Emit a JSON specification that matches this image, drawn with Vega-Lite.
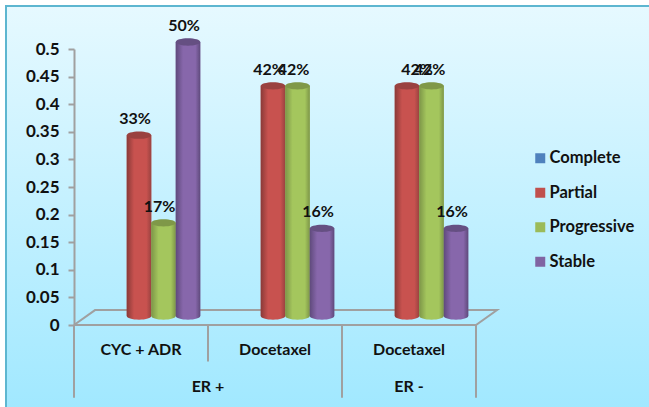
{
  "$schema": "https://vega.github.io/schema/vega-lite/v6.json",
  "width": 650,
  "height": 408,
  "autosize": "none",
  "padding": {"left": 6, "top": 6, "right": 0, "bottom": 0},
  "background": "#ffffff",
  "config": {
    "font": "Lato",
    "view": {
      "stroke": "#5DB6D0",
      "strokeWidth": 2,
      "fill": {"gradient": "linear", "x1": 0, "y1": 0, "x2": 0, "y2": 1, "stops": [{"offset": 0, "color": "#E6F9FF"}, {"offset": 1, "color": "#A0E8FF"}]}
    }
  },
  "datasets": {
    "results": [
      {"group": "ER +|CYC + ADR", "response": "Complete", "share": 0},
      {"group": "ER +|CYC + ADR", "response": "Partial", "share": 0.33},
      {"group": "ER +|CYC + ADR", "response": "Progressive", "share": 0.17},
      {"group": "ER +|CYC + ADR", "response": "Stable", "share": 0.5},
      {"group": "ER +|Docetaxel", "response": "Complete", "share": 0},
      {"group": "ER +|Docetaxel", "response": "Partial", "share": 0.42},
      {"group": "ER +|Docetaxel", "response": "Progressive", "share": 0.42},
      {"group": "ER +|Docetaxel", "response": "Stable", "share": 0.16},
      {"group": "ER -|Docetaxel", "response": "Complete", "share": 0},
      {"group": "ER -|Docetaxel", "response": "Partial", "share": 0.42},
      {"group": "ER -|Docetaxel", "response": "Progressive", "share": 0.42},
      {"group": "ER -|Docetaxel", "response": "Stable", "share": 0.16}
    ],
    "floor": [
      {"step": 1, "u": 0, "v": 0},
      {"step": 2, "u": 0.157, "v": 0.027},
      {"step": 3, "u": 3.157, "v": 0.027},
      {"step": 4, "u": 3, "v": 0},
      {"step": 5, "u": 0, "v": 0}
    ],
    "dividers": [
      {"u": 0, "end": -0.132},
      {"u": 1, "end": -0.066},
      {"u": 2, "end": -0.132},
      {"u": 3, "end": -0.132}
    ],
    "tiers": [
      {"u": 1, "v": -0.112, "tier": "ER +"},
      {"u": 2.5, "v": -0.112, "tier": "ER -"}
    ]
  },
  "layer": [
    {
      "layer": [
        {
          "data": {"name": "floor"},
          "mark": {"type": "line", "color": "#A0A0A0", "strokeWidth": 2, "clip": false},
          "encoding": {
            "x": {"field": "u", "type": "quantitative", "scale": {"domain": [0, 3], "range": [68, 470], "nice": false, "zero": false}, "axis": null},
            "y": {
              "field": "v", "type": "quantitative",
              "scale": {"domain": [0, 0.5], "range": [319, 43], "nice": false},
              "axis": {
                "title": null, "offset": -68, "grid": false,
                "values": [0, 0.05, 0.1, 0.15, 0.2, 0.25, 0.3, 0.35, 0.4, 0.45, 0.5],
                "format": ".2~f",
                "domainColor": "#A0A0A0", "domainWidth": 2,
                "tickColor": "#A0A0A0", "tickWidth": 2, "tickSize": 6,
                "labelFont": "Lato", "labelFontSize": 17, "labelFontWeight": "bold",
                "labelColor": "#111111", "labelPadding": 9
              }
            },
            "order": {"field": "step", "type": "quantitative"}
          }
        },
        {
          "data": {"name": "dividers"},
          "mark": {"type": "rule", "color": "#A0A0A0", "strokeWidth": 2, "clip": false},
          "encoding": {
            "x": {"field": "u", "type": "quantitative"},
            "y": {"field": "end", "type": "quantitative"},
            "y2": {"datum": 0}
          }
        },
        {
          "data": {"name": "tiers"},
          "mark": {"type": "text", "font": "Lato", "fontSize": 16, "fontWeight": "bold", "color": "#111111", "baseline": "middle"},
          "encoding": {
            "x": {"field": "u", "type": "quantitative"},
            "y": {"field": "v", "type": "quantitative"},
            "text": {"field": "tier"}
          }
        }
      ]
    },
    {
      "data": {"name": "results"},
      "encoding": {
        "x": {
          "field": "group", "type": "nominal",
          "scale": {
            "domain": ["ER +|CYC + ADR", "ER +|Docetaxel", "ER -|Docetaxel"],
            "range": [68, 470], "paddingInner": 0, "paddingOuter": 0
          },
          "axis": {
            "title": null, "orient": "bottom", "offset": -89, "ticks": false, "domain": false, "labelAngle": 0,
            "labelExpr": "split(datum.label, '|')[1]",
            "labelFont": "Lato", "labelFontSize": 16, "labelFontWeight": "bold",
            "labelColor": "#111111", "labelPadding": 16
          }
        },
        "xOffset": {
          "field": "response", "type": "nominal",
          "scale": {"type": "point", "padding": 0, "domain": ["Complete", "Partial", "Progressive", "Stable"], "range": [40.5, 114]}
        },
        "y": {
          "field": "share", "type": "quantitative", "stack": null,
          "scale": {"domain": [0, 0.5], "range": [310, 36], "nice": false},
          "axis": null
        }
      },
      "layer": [
        {
          "mark": {"type": "bar", "width": 24.5},
          "encoding": {
            "color": {
              "field": "response", "type": "nominal",
              "scale": {
                "domain": ["Complete", "Partial", "Progressive", "Stable"],
                "range": ["#4F81BD", "#C0504D", "#9BBB59", "#8064A2"]
              },
              "legend": {
                "title": null, "orient": "none", "legendX": 526, "legendY": 144,
                "symbolType": "square", "symbolSize": 100, "symbolStrokeWidth": 0,
                "rowPadding": 17.5, "labelOffset": 1,
                "labelFont": "Lato", "labelFontSize": 16.5, "labelFontWeight": "bold", "labelColor": "#111111"
              }
            }
          }
        },
        {
          "transform": [{"filter": "datum.response === 'Partial'"}],
          "mark": {"type": "bar", "width": 24.5, "color": {"gradient": "linear", "x1": 0, "y1": 0, "x2": 1, "y2": 0, "stops": [{"offset": 0, "color": "#8A3A38"}, {"offset": 0.3, "color": "#C8524F"}, {"offset": 0.8, "color": "#C8524F"}, {"offset": 1, "color": "#9A4240"}]}}
        },
        {
          "transform": [{"filter": "datum.response === 'Partial'"}],
          "mark": {"type": "point", "filled": true, "opacity": 1, "size": 600, "shape": "M-1,0 A1,0.3 0 0 0 1,0 Z", "color": {"gradient": "linear", "x1": 0, "y1": 0, "x2": 1, "y2": 0, "stops": [{"offset": 0, "color": "#8A3A38"}, {"offset": 0.3, "color": "#C8524F"}, {"offset": 0.8, "color": "#C8524F"}, {"offset": 1, "color": "#9A4240"}]}},
          "encoding": {"y": {"datum": 0, "type": "quantitative"}}
        },
        {
          "transform": [{"filter": "datum.response === 'Progressive'"}],
          "mark": {"type": "bar", "width": 24.5, "color": {"gradient": "linear", "x1": 0, "y1": 0, "x2": 1, "y2": 0, "stops": [{"offset": 0, "color": "#7D9648"}, {"offset": 0.3, "color": "#A4C65D"}, {"offset": 0.8, "color": "#A4C65D"}, {"offset": 1, "color": "#7D9648"}]}}
        },
        {
          "transform": [{"filter": "datum.response === 'Progressive'"}],
          "mark": {"type": "point", "filled": true, "opacity": 1, "size": 600, "shape": "M-1,0 A1,0.3 0 0 0 1,0 Z", "color": {"gradient": "linear", "x1": 0, "y1": 0, "x2": 1, "y2": 0, "stops": [{"offset": 0, "color": "#7D9648"}, {"offset": 0.3, "color": "#A4C65D"}, {"offset": 0.8, "color": "#A4C65D"}, {"offset": 1, "color": "#7D9648"}]}},
          "encoding": {"y": {"datum": 0, "type": "quantitative"}}
        },
        {
          "transform": [{"filter": "datum.response === 'Stable'"}],
          "mark": {"type": "bar", "width": 24.5, "color": {"gradient": "linear", "x1": 0, "y1": 0, "x2": 1, "y2": 0, "stops": [{"offset": 0, "color": "#5F4A7C"}, {"offset": 0.3, "color": "#8767AB"}, {"offset": 0.8, "color": "#8767AB"}, {"offset": 1, "color": "#5F4A7C"}]}}
        },
        {
          "transform": [{"filter": "datum.response === 'Stable'"}],
          "mark": {"type": "point", "filled": true, "opacity": 1, "size": 600, "shape": "M-1,0 A1,0.3 0 0 0 1,0 Z", "color": {"gradient": "linear", "x1": 0, "y1": 0, "x2": 1, "y2": 0, "stops": [{"offset": 0, "color": "#5F4A7C"}, {"offset": 0.3, "color": "#8767AB"}, {"offset": 0.8, "color": "#8767AB"}, {"offset": 1, "color": "#5F4A7C"}]}},
          "encoding": {"y": {"datum": 0, "type": "quantitative"}}
        },
        {
          "transform": [{"filter": "datum.share > 0"}],
          "mark": {"type": "point", "filled": true, "opacity": 1, "size": 600, "shape": "M-1,0 A1,0.3 0 1 1 1,0 A1,0.3 0 1 1 -1,0 Z"},
          "encoding": {
            "color": {
              "field": "response", "type": "nominal", "legend": null,
              "scale": {
                "domain": ["Complete", "Partial", "Progressive", "Stable"],
                "range": ["#3F6592", "#9A4240", "#7F9848", "#654F82"]
              }
            }
          }
        },
        {
          "transform": [{"filter": "datum.share > 0 && !(datum.group === 'ER -|Docetaxel' && datum.response !== 'Stable')"}],
          "mark": {"type": "text", "font": "Lato", "fontSize": 16, "fontWeight": "bold", "color": "#111111", "baseline": "middle", "dx": -4, "dy": -16},
          "encoding": {"text": {"field": "share", "type": "quantitative", "format": ".0%"}}
        },
        {
          "transform": [{"filter": "datum.group === 'ER -|Docetaxel' && datum.response === 'Partial'"}],
          "mark": {"type": "text", "font": "Lato", "fontSize": 16, "fontWeight": "bold", "color": "#111111", "baseline": "middle", "dx": 10, "dy": -16},
          "encoding": {"text": {"field": "share", "type": "quantitative", "format": ".0%"}}
        },
        {
          "transform": [{"filter": "datum.group === 'ER -|Docetaxel' && datum.response === 'Progressive'"}],
          "mark": {"type": "text", "font": "Lato", "fontSize": 16, "fontWeight": "bold", "color": "#111111", "baseline": "middle", "dx": -2, "dy": -16},
          "encoding": {"text": {"field": "share", "type": "quantitative", "format": ".0%"}}
        }
      ],
      "resolve": {"scale": {"color": "independent"}}
    }
  ],
  "resolve": {"scale": {"x": "independent", "y": "independent"}}
}
